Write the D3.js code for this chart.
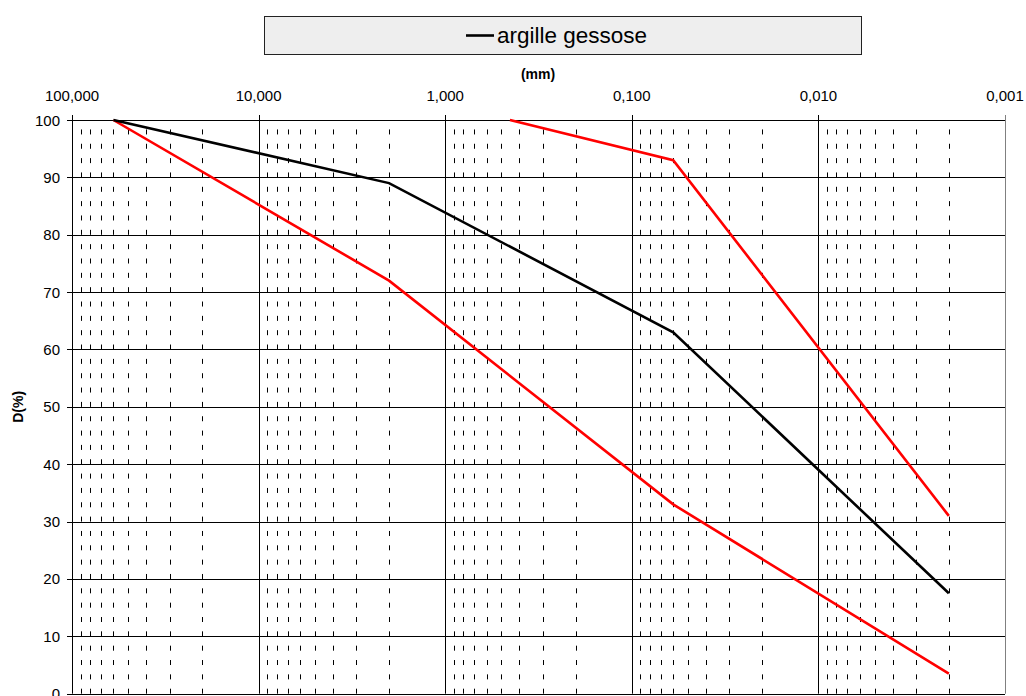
<!DOCTYPE html>
<html>
<head>
<meta charset="utf-8">
<script src="https://cdn.jsdelivr.net/npm/d3@7"></script>
<style>
  html, body { margin: 0; padding: 0; background: #fff; }
  svg { display: block; font-family: "Liberation Sans", Arial, sans-serif; }
</style>
</head>
<body>
<svg id="chart" width="1026" height="696"></svg>
<script>
// Grain size distribution (log scale, mm) vs. passing percentage
const seriesName = "argille gessose";
const sizeTicks = [100, 10, 1, 0.1, 0.01, 0.001];
const sizeTickLabels = ["100,000", "10,000", "1,000", "0,100", "0,010", "0,001"];
const percentTicks = [0, 10, 20, 30, 40, 50, 60, 70, 80, 90, 100];

// Sample curve
const sampleSize = [60, 2, 0.06, 0.002];
const samplePassing = [100, 89, 63, 17.5];
// Envelope: lower limit
const lowerSize = [60, 2, 0.06, 0.002];
const lowerPassing = [100, 72, 33, 3.5];
// Envelope: upper limit
const upperSize = [0.45, 0.06, 0.002];
const upperPassing = [100, 93, 31];

const svg = d3.select("#chart");
const plotLeft = 72, plotRight = 1005, plotTop = 120, plotBottom = 693.7;

const x = d3.scaleLog().domain([100, 0.001]).range([plotLeft, plotRight]);
const y = d3.scaleLinear().domain([0, 100]).range([plotBottom, plotTop]);

// Minor grid: dashed verticals at 2..9 of each decade
const minor = [];
for (let e = -3; e < 2; e++) {
  for (let m = 2; m <= 9; m++) minor.push(m * Math.pow(10, e));
}
svg.append("g").selectAll("line").data(minor).join("line")
  .attr("x1", d => Math.round(x(d)) + 0.5).attr("x2", d => Math.round(x(d)) + 0.5)
  .attr("y1", plotBottom).attr("y2", plotTop)
  .attr("stroke", "#000").attr("stroke-width", 1)
  .attr("stroke-dasharray", "5,9.34");

// Horizontal grid
svg.append("g").selectAll("line").data(percentTicks).join("line")
  .attr("x1", plotLeft).attr("x2", plotRight)
  .attr("y1", d => Math.round(y(d)) + 0.5).attr("y2", d => Math.round(y(d)) + 0.5)
  .attr("stroke", "#000").attr("stroke-width", 1);

// Major verticals (decades), with a short tick above the plot
svg.append("g").selectAll("line").data(sizeTicks).join("line")
  .attr("x1", d => Math.round(x(d)) + 0.5).attr("x2", d => Math.round(x(d)) + 0.5)
  .attr("y1", plotBottom).attr("y2", plotTop - 5)
  .attr("stroke", d => d === 0.001 ? "#808080" : "#000").attr("stroke-width", 1);

// Top axis labels
svg.append("g").selectAll("text").data(sizeTicks).join("text")
  .attr("x", d => x(d)).attr("y", 101)
  .attr("text-anchor", "middle").attr("font-size", 15).attr("fill", "#000")
  .text((d, i) => sizeTickLabels[i]);

// Left axis ticks and labels
const yAxis = svg.append("g");
yAxis.selectAll("line").data(percentTicks).join("line")
  .attr("x1", plotLeft - 5).attr("x2", plotLeft)
  .attr("y1", d => Math.round(y(d)) + 0.5).attr("y2", d => Math.round(y(d)) + 0.5)
  .attr("stroke", "#000");
yAxis.selectAll("text").data(percentTicks).join("text")
  .attr("x", 60).attr("y", d => y(d) + 5.5)
  .attr("text-anchor", "end").attr("font-size", 15).attr("fill", "#000")
  .text(d => d);

// Axis titles
svg.append("text").attr("x", 538).attr("y", 79)
  .attr("text-anchor", "middle").attr("font-size", 14).attr("font-weight", "bold")
  .text("(mm)");
svg.append("text")
  .attr("transform", `translate(23, ${(plotTop + plotBottom) / 2}) rotate(-90)`)
  .attr("text-anchor", "middle").attr("font-size", 14).attr("font-weight", "bold")
  .text("D(%)");

// Curves
const line = d3.line().x(d => x(d[0])).y(d => y(d[1]));
const curves = [
  { sizes: lowerSize, vals: lowerPassing, color: "#ff0000" },
  { sizes: upperSize, vals: upperPassing, color: "#ff0000" },
  { sizes: sampleSize, vals: samplePassing, color: "#000000" }
];
svg.append("g").selectAll("path").data(curves).join("path")
  .attr("d", c => line(c.sizes.map((s, i) => [s, c.vals[i]])))
  .attr("fill", "none").attr("stroke", c => c.color)
  .attr("stroke-width", 2.6).attr("stroke-linejoin", "miter");

// Legend
const lg = svg.append("g");
lg.append("rect").attr("x", 264.5).attr("y", 16.5).attr("width", 597).attr("height", 38)
  .attr("fill", "#eeeeee").attr("stroke", "#222").attr("stroke-width", 1);
lg.append("line").attr("x1", 466).attr("x2", 494).attr("y1", 35.5).attr("y2", 35.5)
  .attr("stroke", "#000").attr("stroke-width", 2.6);
lg.append("text").attr("x", 497).attr("y", 43).attr("font-size", 22.5).attr("fill", "#000")
  .text(seriesName);
</script>
</body>
</html>
